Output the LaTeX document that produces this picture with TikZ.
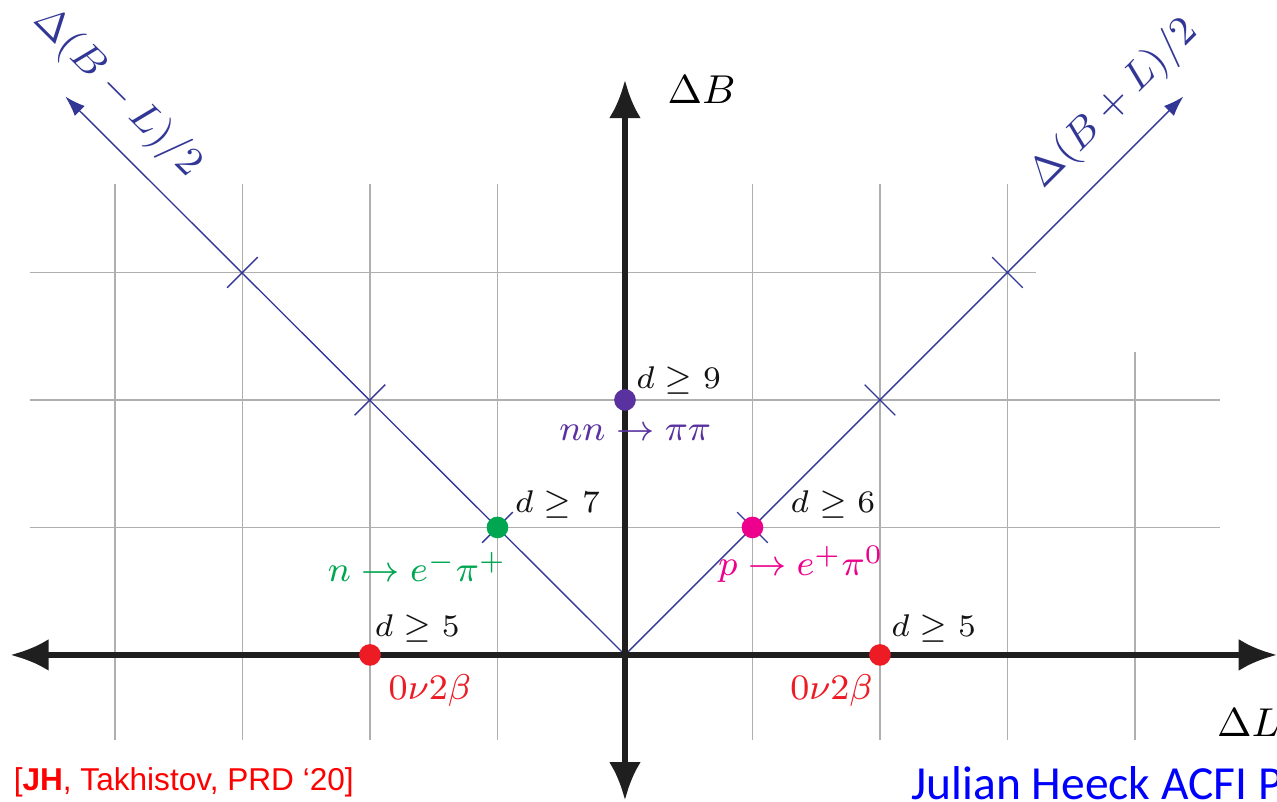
\documentclass[tikz,border=0pt]{standalone}
\usepackage[no-math]{fontspec}
\newfontfamily\reffont{Liberation Sans}
\newfontfamily\talkfont{Carlito}
\usepackage{amsmath}
\usepackage{amssymb}
\usetikzlibrary{positioning,arrows.meta}
\definecolor{diagblue}{RGB}{50,55,150}
\definecolor{gridgray}{RGB}{175,175,175}
\definecolor{nnpurple}{RGB}{90,50,160}
\definecolor{ngreen}{RGB}{0,166,80}
\definecolor{pmagenta}{RGB}{236,0,140}
\definecolor{bbred}{RGB}{237,28,36}
\tikzset{
  gridline/.style={gridgray,line width=0.35pt},
  diagline/.style={diagblue,line width=0.3pt},
  axisline/.style={line width=1.3pt,black!88,{Latex[length=3mm,width=2.5mm]}-{Latex[length=3mm,width=2.5mm]}},
  dot/.style={circle,inner sep=0pt,minimum size=0.17cm},
  dlbl/.style={inner sep=0pt,black!92,font=\fontsize{7}{8}\selectfont},
  proc/.style={inner sep=0pt,font=\fontsize{8.5}{10}\selectfont},
  axlbl/.style={inner sep=0pt,font=\fontsize{9.5}{11}\selectfont}
}

\begin{document}
\begin{tikzpicture}[>=latex,thick]
        \useasboundingbox (-4.902,-1.153) rectangle (5.114,5.137);
        % grid
        \foreach \y in {1,2} \draw[gridline] (-4.67,\y) -- (4.67,\y);
        \draw[gridline] (-4.67,3) -- (3.22,3);
        \foreach \x in {-4,-3,-2,-1,1,2,3} \draw[gridline] (\x,-0.67) -- (\x,3.69);
        \draw[gridline] (4,-0.67) -- (4,2.38);
        % diagonals
        \coordinate (O) at (0,0);
        \coordinate (BmL) at (-4.39,4.38);
        \coordinate (BpL) at (4.38,4.38);
        \draw[diagline,-{Latex[length=1.6mm,width=1.1mm]}] (O) -- (BmL);
        \draw[diagline,-{Latex[length=1.6mm,width=1.1mm]}] (O) -- (BpL);
        \foreach \k in {1,2,3} {
            \draw[diagline] (-\k-0.12,\k-0.12) -- (-\k+0.12,\k+0.12);
            \draw[diagline] (\k-0.12,\k+0.12) -- (\k+0.12,\k-0.12);
        }
        \node[axlbl,diagblue,rotate=-45] (bml) at (-3.98,4.41) {$\Delta(B-L)/2$};
        \node[axlbl,diagblue,rotate=45] (bpl) at (3.84,4.32) {$\Delta(B+L)/2$};
        % axes
        \coordinate (Lneg) at (-4.82,0);
        \coordinate (Lpos) at (5.114,0);
        \coordinate (Bneg) at (0,-1.14);
        \coordinate (Bpos) at (0,4.51);
        \draw[axisline] (Lneg) -- (Lpos);
        \draw[axisline] (Bneg) -- (Bpos);
        \node[axlbl] (dB) at (0.6,4.43) {$\Delta B$};
        \node[axlbl,anchor=west] (dL) at (4.63,-0.53) {$\Delta L$};
        % processes
        \node[dot,fill=nnpurple] (nnpp) at (0,2) {};
        \node[dot,fill=ngreen] (ndec) at (-1,1) {};
        \node[dot,fill=pmagenta] (pdec) at (1,1) {};
        \node[dot,fill=bbred] (bbl) at (-2,0) {};
        \node[dot,fill=bbred] (bbr) at (2,0) {};
        \node[dlbl] (d9) at (0.42,2.15) {$d \geq 9$};
        \node[proc,nnpurple] (nnl) at (0.08,1.74) {$nn \to \pi\pi$};
        \node[dlbl] (d7) at (-0.53,1.18) {$d \geq 7$};
        \node[proc,ngreen] (nl) at (-1.63,0.69) {$n \to e^-\pi^+$};
        \node[dlbl] (d6) at (1.63,1.18) {$d \geq 6$};
        \node[proc,pmagenta] (pl) at (1.38,0.71) {$p \to e^+\pi^0$};
        \node[dlbl] (d5l) at (-1.63,0.21) {$d \geq 5$};
        \node[proc,bbred] (bbll) at (-1.53,-0.28) {$0\nu2\beta$};
        \node[dlbl] (d5r) at (2.42,0.21) {$d \geq 5$};
        \node[proc,bbred] (bbrl) at (1.62,-0.28) {$0\nu2\beta$};
        % footer
        \node[inner sep=0pt,anchor=base west,red,font=\reffont\fontsize{7.05}{8}\selectfont] (cite) at (-4.808,-1.06) {[\textbf{JH}, Takhistov, PRD ‘20]};
        \node[inner sep=0pt,anchor=base west,blue,font=\talkfont\fontsize{10.6}{12}\selectfont] (talk) at (2.235,-1.13) {Julian Heeck ACFI P};
    \end{tikzpicture}
\end{document}
